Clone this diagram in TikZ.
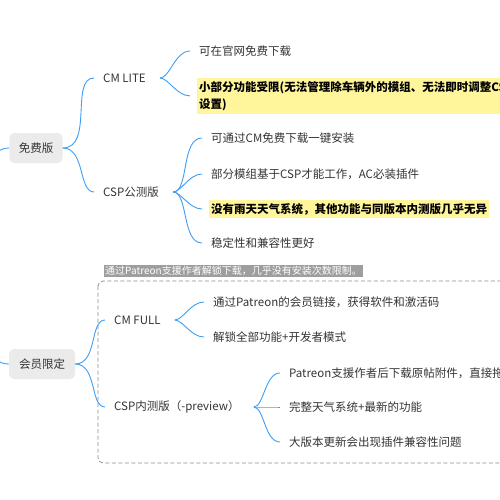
\documentclass[tikz,border=0pt]{standalone}
\usepackage{fontspec}
\setmainfont{Noto Sans CJK SC}
\usepackage{xcolor}
\usetikzlibrary{positioning}

\definecolor{linkblue}{HTML}{3D9EF5}
\definecolor{textgray}{HTML}{333333}
\definecolor{boxgray}{HTML}{EBEBEB}
\definecolor{hilite}{HTML}{FFF69C}
\definecolor{notegray}{HTML}{9E9E9E}
\definecolor{dashgray}{HTML}{8C8C8C}

\begin{document}
\begin{tikzpicture}[
    x=1pt, y=-1pt,
    every node/.style={font=\fontsize{11.5}{17}\selectfont, text=textgray},
    rootbox/.style={fill=boxgray, rounded corners=5pt, minimum height=30pt, inner xsep=6pt},
    topic/.style={anchor=west, inner xsep=2pt, inner ysep=2pt},
    leaf/.style={anchor=west, inner xsep=2pt, inner ysep=2pt},
    hileaf/.style={leaf, fill=hilite, font=\fontsize{11.5}{17}\selectfont\bfseries, text=black, inner ysep=3pt},
    link/.style={draw=linkblue, line width=0.9pt, shorten >=7pt},
    sublink/.style={link, shorten <=12pt}
]
\useasboundingbox (0,0) rectangle (500,500);

% --- main branches ---
\coordinate (root) at (-26,255);
\node[rootbox, minimum width=53pt] (free) at (36,148) {免费版};
\node[rootbox, minimum width=66pt] (member) at (42,364) {会员限定};

\draw[link, shorten >=0pt] (root) to[out=0,in=180] (free.west);
\draw[link, shorten >=0pt] (root) to[out=0,in=180] (member.west);

% --- free versions ---
\node[topic] (cmlite) at (101,78) {CM LITE};
\node[topic] (csppub) at (101,192) {CSP公测版};

\draw[link] (free.east) to[out=0,in=180] (cmlite.west);
\draw[link] (free.east) to[out=0,in=180] (csppub.west);

\node[leaf] (lite1) at (197,51) {可在官网免费下载};
\node[hileaf, anchor=north west, align=left, text width=330pt] (lite2) at (197,78)
    {小部分功能受限(无法管理除车辆外的模组、无法即时调整CSP\\设置)};

\draw[sublink] (cmlite.east) to[out=0,in=180] (lite1.west);
\draw[sublink] (cmlite.east) to[out=0,in=180] (lite2.west);

\node[leaf] (pub1) at (209,138) {可通过CM免费下载一键安装};
\node[leaf] (pub2) at (209,174) {部分模组基于CSP才能工作，AC必装插件};
\node[hileaf] (pub3) at (209,209) {没有雨天天气系统，其他功能与同版本内测版几乎无异};
\node[leaf] (pub4) at (209,243) {稳定性和兼容性更好};

\foreach \k in {pub1,pub2,pub3,pub4}
    \draw[sublink] (csppub.east) to[out=0,in=180] (\k.west);

% --- member versions ---
\node[anchor=west, fill=notegray, text=white, inner sep=1pt,
      font=\fontsize{10}{11}\selectfont] (note) at (104,271)
    {通过Patreon支援作者解锁下载，几乎没有安装次数限制。};
\draw[dashgray, line width=0.8pt, dash pattern=on 4pt off 2.5pt, rounded corners=5pt]
    (98,281) rectangle (530,463);

\node[topic] (cmfull) at (112,320) {CM FULL};
\node[topic] (cspin) at (112,407) {CSP内测版（-preview）};

\draw[link] (member.east) to[out=0,in=180] (cmfull.west);
\draw[link] (member.east) to[out=0,in=180] (cspin.west);

\node[leaf] (full1) at (211,302) {通过Patreon的会员链接，获得软件和激活码};
\node[leaf] (full2) at (211,337) {解锁全部功能+开发者模式};

\draw[sublink] (cmfull.east) to[out=0,in=180] (full1.west);
\draw[sublink] (cmfull.east) to[out=0,in=180] (full2.west);

\node[leaf] (in1) at (287,373) {Patreon支援作者后下载原帖附件，直接拖};
\node[leaf] (in2) at (287,407) {完整天气系统+最新的功能};
\node[leaf] (in3) at (287,442) {大版本更新会出现插件兼容性问题};

\foreach \k in {in1,in2,in3}
    \draw[sublink] (cspin.east) to[out=0,in=180] (\k.west);

\end{tikzpicture}
\end{document}
